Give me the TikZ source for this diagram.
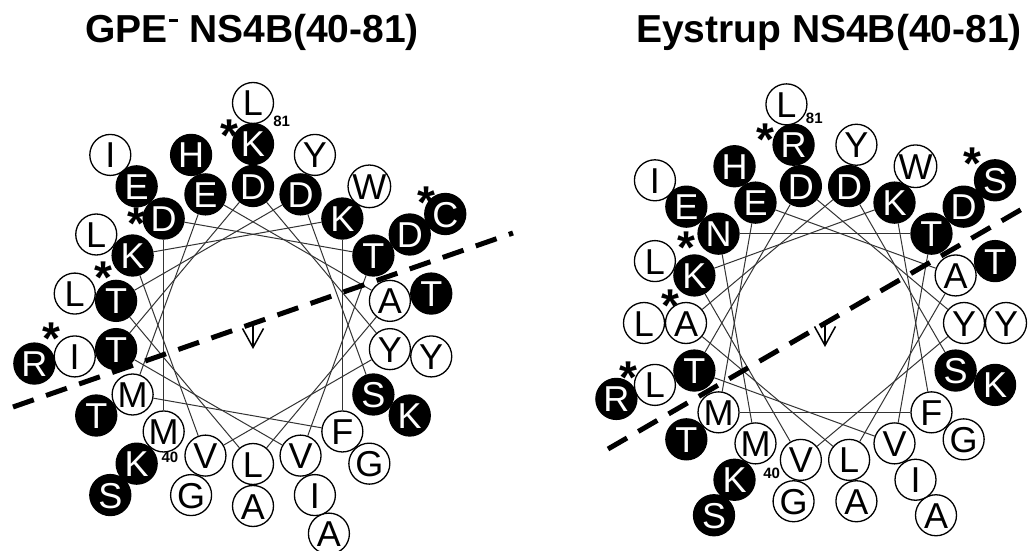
\documentclass[tikz,border=0pt]{standalone}
\usepackage{fontspec}
\setmainfont{Liberation Sans}
\usetikzlibrary{backgrounds,arrows.meta}
\tikzset{
  res/.style={circle, draw=black, line width=1.3pt, minimum size=41pt, inner sep=0pt,
    text height=26pt, text depth=0pt, font=\fontsize{36}{36}\selectfont},
  hp/.style={res, fill=white, text=black},
  ch/.style={res, fill=black, text=white},
  link/.style={draw=black!80, line width=1pt},
  hdash/.style={line width=5pt, dash pattern=on 22pt off 13pt},
  num/.style={font=\fontsize{15}{15}\selectfont\bfseries, inner sep=0pt},
  ast/.style={font=\fontsize{46}{46}\selectfont\bfseries, inner sep=0pt, anchor=north},
  ttl/.style={font=\fontsize{39}{39}\selectfont\bfseries, anchor=base, inner sep=0pt},
  moment/.style={line width=1.5pt, -{Straight Barb[length=19pt, width=21pt, line width=1.5pt]}}
}
\begin{document}
\begin{tikzpicture}[x=1pt,y=1pt]
\useasboundingbox (0,0) rectangle (1029,-551);
% titles
\node[ttl] (t1) at (252,-43) {GPE\hspace{2pt}\raisebox{21pt}{\rule{9pt}{2.8pt}} NS4B(40-81)};
\node[ttl] (t2) at (829,-43) {Eystrup NS4B(40-81)};
% left wheel (drawn outer ring first)
\foreach \n/\aa/\cc in {81/L/hp,80/R/ch,79/A/hp,78/C/ch,77/I/hp,76/S/ch,
  75/K/ch,74/Y/hp,73/L/hp,72/A/hp,71/T/ch,70/H/ch,69/T/ch,68/G/hp,67/W/hp,66/L/hp,65/G/hp,64/Y/hp,63/K/ch,62/I/hp,61/I/hp,60/D/ch,59/E/ch,58/K/ch,
  57/S/ch,56/D/ch,55/T/ch,54/L/hp,53/A/hp,52/E/ch,51/M/hp,50/F/hp,49/K/ch,48/K/ch,47/V/hp,46/Y/hp,45/D/ch,44/T/ch,43/V/hp,42/T/ch,41/D/ch,40/M/hp} {
  \pgfmathtruncatemacro\k{\n-40}
  \pgfmathsetmacro\ang{-130-100*\k}
  \pgfmathsetmacro\rad{\k<18 ? 139 : (\k<36 ? 181 : 222)}
  \node[\cc] (L\n) at ([shift={(\ang:\rad)}]253,-325) {\aa};
}
% right wheel
\foreach \n/\aa/\cc in {81/L/hp,80/R/ch,79/A/hp,78/S/ch,77/I/hp,76/S/ch,
  75/K/ch,74/Y/hp,73/L/hp,72/A/hp,71/T/ch,70/H/ch,69/T/ch,68/G/hp,67/W/hp,66/L/hp,65/G/hp,64/Y/hp,63/R/ch,62/L/hp,61/I/hp,60/D/ch,59/E/ch,58/K/ch,
  57/S/ch,56/D/ch,55/A/hp,54/L/hp,53/A/hp,52/E/ch,51/M/hp,50/F/hp,49/K/ch,48/K/ch,47/V/hp,46/Y/hp,45/D/ch,44/T/ch,43/V/hp,42/T/ch,41/N/ch,40/M/hp} {
  \pgfmathtruncatemacro\k{\n-40}
  \pgfmathsetmacro\ang{-120-100*\k}
  \pgfmathsetmacro\rad{\k<18 ? 139 : (\k<36 ? 181 : 222)}
  \node[\cc] (R\n) at ([shift={(\ang:\rad)}]825,-323) {\aa};
}
% residue numbers
\node[num] (Ln81) at (281.7,-121.7) {81};
\node[num] (Ln40) at (170,-457.3) {40};
\node[num] (Rn81) at (814.3,-118.3) {81};
\node[num] (Rn40) at (771.7,-473.3) {40};
% asterisks
\node[ast] (La1) at (229,-120) {*};
\node[ast] (La2) at (136.7,-208) {*};
\node[ast] (La3) at (103.3,-262) {*};
\node[ast] (La4) at (426.7,-187) {*};
\node[ast] (La5) at (51.7,-323) {*};
\node[ast] (Ra1) at (765,-124) {*};
\node[ast] (Ra2) at (686.7,-232) {*};
\node[ast] (Ra3) at (670,-290) {*};
\node[ast] (Ra4) at (972.7,-148) {*};
\node[ast] (Ra5) at (628.3,-362) {*};
% helix backbone links
\begin{scope}[on background layer]
  \fill[white] (0,0) rectangle (1029,-551);
  \foreach \n in {40,...,56} {
    \pgfmathtruncatemacro\m{\n+1}
    \draw[link] (L\n) -- (L\m);
    \draw[link] (R\n) -- (R\m);
  }
\end{scope}
% hydrophobic boundary lines
\coordinate (Ld1) at (13,-407);
\coordinate (Ld2) at (513,-233);
\draw[hdash] (Ld1) -- (Ld2);
\coordinate (Rd1) at (608,-449);
\coordinate (Rd2) at (1029,-205);
\draw[hdash] (Rd1) -- (Rd2);
% hydrophobic moment arrows
\coordinate (Lc) at (253,-325);
\coordinate (Lm) at (253,-349);
\draw[moment] (Lc) -- (Lm);
\coordinate (Rc) at (825,-322);
\coordinate (Rm) at (825,-347);
\draw[moment] (Rc) -- (Rm);
\end{tikzpicture}
\end{document}
